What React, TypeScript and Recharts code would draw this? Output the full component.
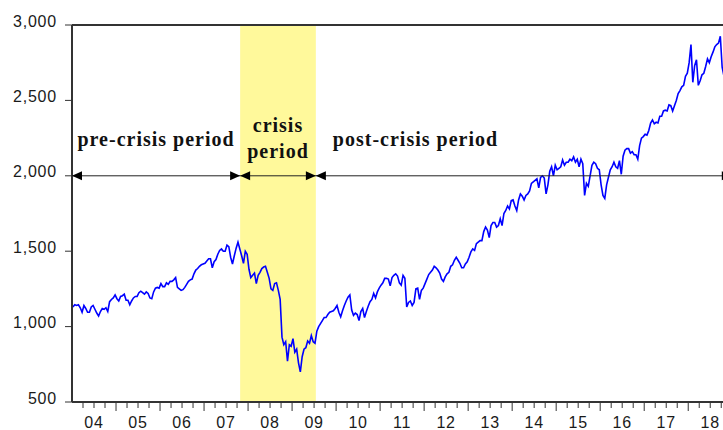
import React from 'react';
import {
  LineChart,
  Line,
  XAxis,
  YAxis,
  ReferenceArea,
  ReferenceLine,
  ReferenceDot,
} from 'recharts';

// index level, two readings per month (first half / second half)
const sp2004 = [1130, 1145, 1140, 1145, 1125, 1095, 1140, 1120, 1095, 1095, 1130, 1140, 1115, 1090, 1070, 1100, 1120, 1115, 1125, 1100, 1165, 1180, 1190, 1210];
const sp2005 = [1185, 1170, 1200, 1205, 1215, 1175, 1175, 1145, 1170, 1190, 1200, 1200, 1225, 1235, 1225, 1215, 1230, 1220, 1190, 1185, 1230, 1255, 1260, 1255];
const sp2006 = [1285, 1265, 1265, 1290, 1280, 1300, 1300, 1310, 1325, 1260, 1250, 1240, 1245, 1260, 1280, 1300, 1310, 1315, 1350, 1375, 1385, 1400, 1410, 1415];
const sp2007 = [1420, 1435, 1450, 1450, 1390, 1430, 1445, 1480, 1505, 1515, 1500, 1500, 1540, 1530, 1460, 1415, 1470, 1520, 1560, 1515, 1470, 1420, 1500, 1480];
const sp2008 = [1380, 1325, 1340, 1355, 1285, 1340, 1360, 1385, 1395, 1400, 1360, 1320, 1250, 1240, 1285, 1290, 1240, 1180, 930, 880, 900, 770, 880, 870];
const sp2009 = [920, 830, 850, 760, 700, 800, 850, 860, 905, 890, 940, 900, 890, 970, 1000, 1020, 1040, 1060, 1060, 1080, 1095, 1100, 1105, 1120];
const sp2010 = [1140, 1095, 1065, 1105, 1140, 1170, 1195, 1210, 1110, 1075, 1090, 1080, 1040, 1100, 1120, 1060, 1100, 1135, 1165, 1180, 1220, 1190, 1230, 1255];
const sp2011 = [1275, 1290, 1320, 1320, 1315, 1270, 1325, 1340, 1350, 1335, 1290, 1275, 1340, 1320, 1130, 1160, 1170, 1140, 1160, 1250, 1255, 1180, 1240, 1255];
const sp2012 = [1285, 1315, 1345, 1360, 1375, 1400, 1390, 1375, 1355, 1315, 1300, 1330, 1350, 1360, 1400, 1410, 1440, 1460, 1440, 1420, 1390, 1390, 1415, 1430];
const sp2013 = [1460, 1495, 1515, 1505, 1550, 1560, 1570, 1570, 1630, 1660, 1640, 1590, 1670, 1690, 1690, 1660, 1670, 1715, 1670, 1750, 1770, 1800, 1780, 1835];
const sp2014 = [1840, 1800, 1770, 1840, 1880, 1865, 1840, 1870, 1880, 1900, 1950, 1960, 1970, 1980, 1920, 1990, 2000, 1985, 1880, 1940, 2030, 2060, 2000, 2070];
const sp2015 = [2040, 2050, 2060, 2105, 2070, 2090, 2090, 2110, 2100, 2125, 2090, 2110, 2060, 2110, 2080, 1870, 1950, 1930, 2000, 2070, 2090, 2080, 2050, 2040];
const sp2016 = [1940, 1870, 1850, 1940, 1990, 2040, 2060, 2090, 2060, 2050, 2100, 2010, 2130, 2170, 2180, 2180, 2150, 2160, 2140, 2140, 2110, 2200, 2250, 2260];
const sp2017 = [2275, 2270, 2300, 2350, 2370, 2345, 2355, 2350, 2395, 2395, 2430, 2435, 2430, 2470, 2465, 2430, 2465, 2500, 2545, 2565, 2590, 2600, 2660, 2680];
const sp2018 = [2750, 2870, 2620, 2730, 2770, 2600, 2630, 2670, 2680, 2725, 2775, 2750, 2790, 2820, 2855, 2870, 2880, 2925, 2720, 2660];

const startYear = 2004;
const yearly = [sp2004, sp2005, sp2006, sp2007, sp2008, sp2009, sp2010, sp2011, sp2012, sp2013, sp2014, sp2015, sp2016, sp2017, sp2018];

const yTicks = [500, 1000, 1500, 2000, 2500, 3000];
const yearLabels = ['04', '05', '06', '07', '08', '09', '10', '11', '12', '13', '14', '15', '16', '17', '18'];

const crisisStart = 2007.82;
const crisisEnd = 2009.54;
const xEnd = 2018.79;
const periodLevel = 2000;

const data = yearly.flatMap((vals, i) =>
  vals.map((v, j) => ({ t: startYear + i + (j + 0.5) / 24, v }))
);
const quarterTicks = Array.from({ length: 59 }, (_, i) => startYear + (i + 1) / 4);

const PLOT_BOTTOM = 402;
const AXIS = '#333';
const tickFont = { fontFamily: '"Liberation Sans", Arial, sans-serif', fontSize: 16, fill: '#1a1a1a', letterSpacing: 0.8 };
const labelFont = { fontFamily: '"Liberation Serif", "Times New Roman", serif', fontSize: 20, fontWeight: 700, fill: '#111', letterSpacing: 1 };

const XTick = ({ x, payload }: any) => {
  const v = payload.value;
  const major = Math.abs(v - Math.round(v)) < 1e-6;
  const mid = Math.abs(v - Math.floor(v) - 0.5) < 1e-6;
  return (
    <g>
      <line x1={x} x2={x} y1={PLOT_BOTTOM} y2={PLOT_BOTTOM + (major ? 9 : 6)} stroke={AXIS} strokeWidth={1} />
      {mid && (
        <text x={x} y={428} textAnchor="middle" {...tickFont}>
          {yearLabels[Math.floor(v) - startYear]}
        </text>
      )}
    </g>
  );
};

const YTick = ({ x, y, payload }: any) => (
  <text x={x} y={y - 4} dy="0.355em" textAnchor="end" {...tickFont}>
    {payload.value.toLocaleString('en-US')}
  </text>
);

const arrowHead = (dir: 'left' | 'right') => (props: any) => {
  const { cx, cy } = props;
  const s = dir === 'left' ? 1 : -1;
  return <polygon points={`${cx},${cy} ${cx + s * 10},${cy - 4.5} ${cx + s * 10},${cy + 4.5}`} fill="#000" />;
};

const periodLabel = (lines: string[], anchor: 'middle' | 'start', dx: number, offsets: number[]) => (props: any) => (
  <text textAnchor={anchor} {...labelFont}>
    {lines.map((line, i) => (
      <tspan key={i} x={props.cx + dx} y={props.cy - offsets[i]}>
        {line}
      </tspan>
    ))}
  </text>
);

export default function App() {
  return (
    <div style={{ position: 'absolute', left: 0, top: 0, width: 723, height: 430, background: '#fff', overflow: 'hidden' }}>
      <LineChart width={723} height={430} data={data} margin={{ top: 25, right: 0, left: 0, bottom: 0 }}>
        <ReferenceArea x1={crisisStart} x2={crisisEnd} y1={500} y2={3000} fill="#fff99b" fillOpacity={1} stroke="none" />
        <XAxis
          dataKey="t"
          type="number"
          domain={[startYear, xEnd]}
          allowDataOverflow
          ticks={quarterTicks}
          interval={0}
          height={28}
          tickLine={false}
          tick={<XTick />}
          axisLine={{ stroke: AXIS, strokeWidth: 2 }}
        />
        <YAxis
          type="number"
          domain={[500, 3000]}
          ticks={yTicks}
          interval={0}
          width={72}
          tickSize={7}
          tickMargin={8}
          tickLine={{ stroke: AXIS }}
          tick={<YTick />}
          axisLine={{ stroke: AXIS, strokeWidth: 2 }}
        />
        <ReferenceLine y={3000} stroke={AXIS} strokeWidth={2} />
        <Line type="linear" dataKey="v" stroke="#0000ff" strokeWidth={1.6} dot={false} isAnimationActive={false} />
        <ReferenceLine
          segment={[{ x: startYear, y: periodLevel }, { x: xEnd, y: periodLevel }]}
          stroke="#222"
          strokeWidth={1}
        />
        <ReferenceDot x={startYear} y={periodLevel} r={5} shape={arrowHead('left')} />
        <ReferenceDot x={crisisStart} y={periodLevel} r={5} shape={arrowHead('right')} />
        <ReferenceDot x={crisisStart} y={periodLevel} r={5} shape={arrowHead('left')} />
        <ReferenceDot x={crisisEnd} y={periodLevel} r={5} shape={arrowHead('right')} />
        <ReferenceDot x={crisisEnd} y={periodLevel} r={5} shape={arrowHead('left')} />
        <ReferenceDot x={xEnd + 0.2} y={periodLevel} r={5} ifOverflow="visible" shape={arrowHead('right')} />
        <ReferenceDot x={(startYear + crisisStart) / 2} y={periodLevel} r={5} shape={periodLabel(['pre-crisis period'], 'middle', 0, [30])} />
        <ReferenceDot x={(crisisStart + crisisEnd) / 2} y={periodLevel} r={5} shape={periodLabel(['crisis', 'period'], 'middle', 0, [44, 18])} />
        <ReferenceDot x={crisisEnd} y={periodLevel} r={5} shape={periodLabel(['post-crisis period'], 'start', 17, [30])} />
      </LineChart>
    </div>
  );
}
